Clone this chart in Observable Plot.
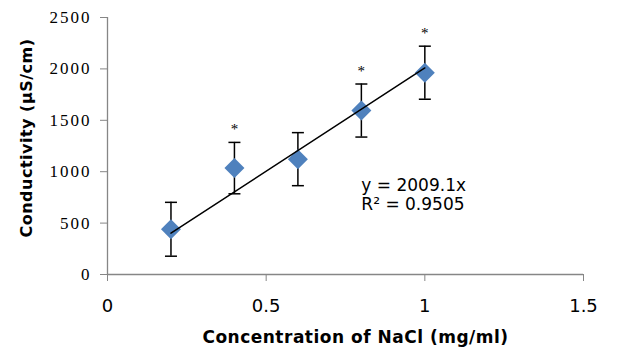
<!DOCTYPE html>
<html><head><meta charset="utf-8">
<script src="https://cdn.jsdelivr.net/npm/d3@7"></script>
<script src="https://cdn.jsdelivr.net/npm/@observablehq/plot@0.6"></script>
<style>body{margin:0;background:#fff}</style>
</head><body><div id="chart"></div>
<script>
const concentrations = [0.2, 0.4, 0.6, 0.8, 1.0];
const conductivity = [440, 1035, 1122, 1595, 1963];
const errors = [262, 250, 258, 258, 258];
const significant = [false, true, false, true, true];
const slope = 2009.1;
const rSquared = 0.9505;
const xTicks = [0, 0.5, 1, 1.5];
const yTicks = [0, 500, 1000, 1500, 2000, 2500];
const xTitle = "Concentration of NaCl (mg/ml)";
const yTitle = "Conductivity (µS/cm)";

const rows = concentrations.map((x, i) => ({x, y: conductivity[i], err: errors[i], sig: significant[i]}));
const trend = d3.extent(concentrations).map(x => ({x, y: slope * x}));
const caps = rows.flatMap(d => [{x: d.x, y: d.y - d.err}, {x: d.x, y: d.y + d.err}]);
const capSymbol = {draw(ctx, size) { const h = Math.sqrt(size / Math.PI); ctx.moveTo(-h, 0); ctx.lineTo(h, 0); }};
const axisGray = "#868686";

const chart = Plot.plot({
  width: 623, height: 354,
  marginLeft: 107, marginRight: 40, marginTop: 17, marginBottom: 80,
  x: {domain: [0, 1.5]},
  y: {domain: [0, 2500]},
  style: {background: "white", overflow: "visible"},
  marks: [
    Plot.ruleY([0], {stroke: axisGray, strokeWidth: 1.3}),
    Plot.ruleX([0], {stroke: axisGray, strokeWidth: 1.3}),
    Plot.axisX({ticks: xTicks, tickSize: 7, tickPadding: 18, stroke: axisGray, fill: "black",
      fontSize: 18, fontFamily: "DejaVu Sans", tickFormat: d => String(d), label: null}),
    Plot.axisY({ticks: yTicks, tickSize: 7, tickPadding: 9, stroke: axisGray, fill: "black",
      fontSize: 17, fontFamily: "Liberation Serif", tickFormat: d => String(d), label: null}),
    Plot.ruleX(rows, {x: "x", y1: d => d.y - d.err, y2: d => d.y + d.err, stroke: "black", strokeWidth: 1.5}),
    Plot.dot(caps, {x: "x", y: "y", symbol: capSymbol, r: 6, stroke: "black", strokeWidth: 1.5, fill: "none"}),
    Plot.dot(rows, {x: "x", y: "y", symbol: "diamond2", r: 9, fill: "#4F81BD", stroke: "none"}),
    Plot.line(trend, {x: "x", y: "y", stroke: "black", strokeWidth: 1.5}),
    Plot.text(rows.filter(d => d.sig), {x: "x", y: d => d.y + d.err, text: () => "*", dy: -13,
      fontFamily: "Liberation Serif", fontSize: 15, fill: "black"}),
    Plot.text([`y = ${slope}x\nR² = ${rSquared}`], {x: 0.8, y: 780, textAnchor: "start", lineAnchor: "middle",
      lineHeight: 1.1, fontSize: 17, fontFamily: "DejaVu Sans", fill: "black"}),
    Plot.text([xTitle], {frameAnchor: "bottom", lineAnchor: "middle", dx: 10, dy: 63, fontSize: 17,
      fontWeight: "bold", fontFamily: "DejaVu Sans", fill: "black"}),
    Plot.text([yTitle], {frameAnchor: "left", rotate: -90, textAnchor: "middle", lineAnchor: "middle",
      dx: -81, dy: -8, fontSize: 16, fontWeight: "bold", fontFamily: "DejaVu Sans", fill: "black"})
  ]
});
d3.select(chart).selectAll('g[aria-label="y-axis tick label"] text').style("letter-spacing", "2px");
d3.select(chart).selectAll("text").filter(function() { const t = this.textContent; return t === xTitle || t === yTitle; })
  .style("letter-spacing", "0.5px");
document.getElementById("chart").appendChild(chart);
</script>
</body></html>
